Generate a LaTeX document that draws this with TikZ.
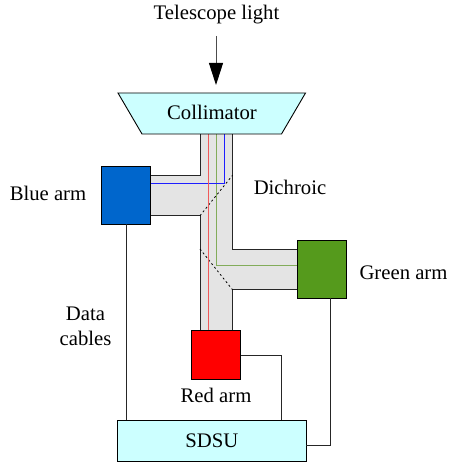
\documentclass[tikz,border=0pt]{standalone}
\usepackage{fontspec}
\setmainfont{Liberation Serif}
\usetikzlibrary{arrows.meta}
\definecolor{paleCyan}{RGB}{204,255,255}
\definecolor{pathGrey}{RGB}{228,228,228}
\definecolor{armBlue}{RGB}{0,102,204}
\definecolor{armGreen}{RGB}{85,154,28}
\definecolor{beamRed}{RGB}{240,90,90}
\definecolor{beamGreen}{RGB}{130,172,90}
\definecolor{beamBlue}{RGB}{30,30,255}
\begin{document}
\begin{tikzpicture}[x=1pt,y=-1pt,font=\fontsize{20.7}{24}\selectfont]
	\tikzstyle{Arm} = [rectangle, draw, line width=0.9pt, minimum width=49.4pt, minimum height=57.3pt, inner sep=0pt, outer sep=0pt]
	\tikzstyle{Label} = [inner sep=0pt, align=center]
	\tikzstyle{Cable} = [line width=0.8pt, black!85]
	\tikzstyle{Wall} = [line width=0.9pt, black!85]
	\tikzstyle{Mirror} = [line width=0.8pt, dash pattern=on 2pt off 2.6pt]
	\useasboundingbox (0,0) rectangle (448,462);
	% light path
	\fill [pathGrey] (200,134) -- (232.5,134) -- (232.5,249) -- (297.5,249) -- (297.5,289.7) -- (232.5,289.7) -- (232.5,330.3) -- (200,330.3) -- (200,215.7) -- (150.7,215.7) -- (150.7,175.3) -- (200,175.3) -- cycle;
	\coordinate (pathTL) at (200,134);
	\coordinate (pathTR) at (232.5,134);
	\coordinate (blueTop) at (150.7,175.3);
	\coordinate (blueCorner) at (200,175.3);
	\coordinate (blueBot) at (150.7,215.7);
	\coordinate (blueInner) at (200,215.7);
	\coordinate (greenCorner) at (232.5,249);
	\coordinate (greenTop) at (297.5,249);
	\coordinate (greenInner) at (232.5,289.7);
	\coordinate (greenBot) at (297.5,289.7);
	\coordinate (redL) at (200,330.3);
	\coordinate (redR) at (232.5,330.3);
	\draw [Wall] (pathTL) to (blueCorner) to (blueTop);
	\draw [Wall] (blueBot) to (blueInner) to (redL);
	\draw [Wall] (pathTR) to (greenCorner) to (greenTop);
	\draw [Wall] (greenBot) to (greenInner) to (redR);
	\draw [Mirror] (blueInner) to (232.5,175.3);
	\draw [Mirror] (redL |- greenCorner) to (greenInner);
	% beams
	\coordinate (beamB0) at (224.5,134);
	\coordinate (beamB1) at (224.5,183.3);
	\coordinate (beamB2) at (150.7,183.3);
	\coordinate (beamG0) at (216,134);
	\coordinate (beamG1) at (216,265);
	\coordinate (beamG2) at (297.5,265);
	\coordinate (beamR0) at (208,134);
	\coordinate (beamR1) at (208,330.3);
	\draw [beamGreen, line width=0.9pt] (beamG0) to (beamG1) to (beamG2);
	\draw [beamBlue, line width=1pt] (beamB0) to (beamB1) to (beamB2);
	\draw [beamRed, line width=0.9pt] (beamR0) to (beamR1);
	% boxes
	\draw [line width=0.9pt, fill=paleCyan] (118,93) -- (305.5,93) -- (281.5,134) -- (142,134) -- cycle;
	\node (collimator) at (212,112.5) [Label] {Collimator};
	\node (blueArm) at (126,195.6) [Arm, fill=armBlue] {};
	\node (greenArm) at (322.1,269.3) [Arm, fill=armGreen] {};
	\node (redArm) at (216,355) [Arm, minimum height=49.4pt, fill=red] {};
	\node (sdsu) at (211.8,440.6) [rectangle, draw, line width=0.8pt, fill=paleCyan, minimum width=188.3pt, minimum height=40.7pt, inner sep=0pt, outer sep=0pt] {SDSU};
	% cables
	\coordinate (redTurn) at (281.3,355);
	\coordinate (greenTurn) at (330.3,445);
	\draw [Cable] (blueArm.south) to (blueArm.south |- sdsu.north);
	\draw [Cable] (redArm.east) to (redTurn) to (redTurn |- sdsu.north);
	\draw [Cable] (greenTurn |- greenArm.south) to (greenTurn) to (greenTurn -| sdsu.east);
	% labels
	\node (telescope) at (216.5,15) [Label] {Telescope light};
	\coordinate (arrowTop) at (216,36);
	\coordinate (arrowEnd) at (216,85);
	\draw [-{Triangle[length=22pt,width=14pt,color=black,fill=black]}, line width=0.9pt, black!70] (arrowTop) to (arrowEnd);
	\node (blueLabel) at (48,193) [Label] {Blue arm};
	\node (dichroic) at (290,187) [Label] {Dichroic};
	\node (greenLabel) at (403.5,273) [Label] {Green arm};
	\node (cables) at (85.5,326.5) [Label] {Data\\[1pt]cables};
	\node (redLabel) at (216,395) [Label] {Red arm};
\end{tikzpicture}
\end{document}
